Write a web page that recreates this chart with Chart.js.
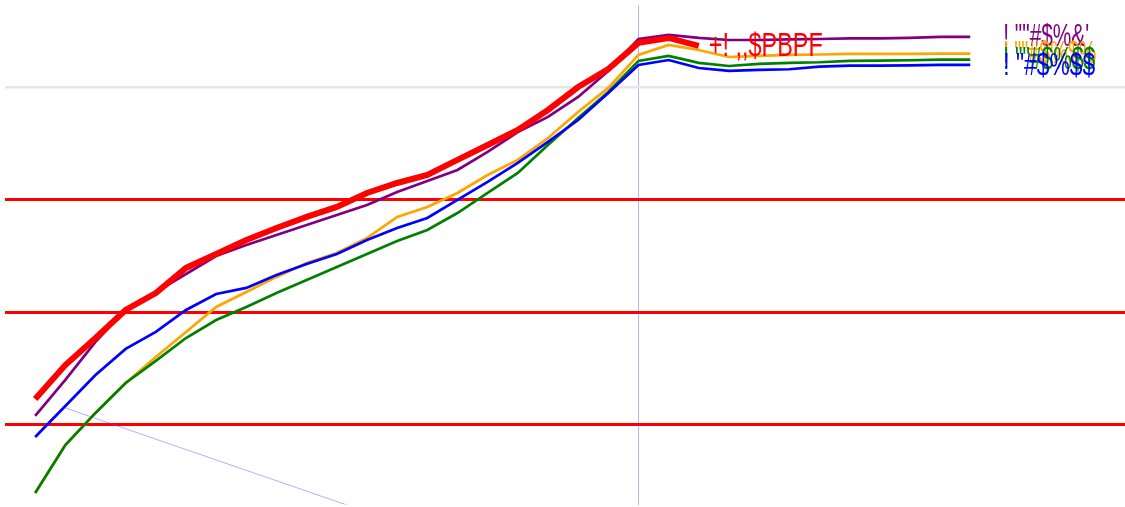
<!doctype html>
<html lang="">
<head>
  <meta charset="utf-8">
  <title>lines</title>
  <style>
    html, body { margin: 0; padding: 0; background: #fff; }
    #wrap { width: 1125px; height: 507px; position: relative; }
  </style>
</head>
<body>
  <div id="wrap"><canvas id="chart"></canvas></div>

  <script src="https://cdn.jsdelivr.net/npm/chart.js@4/dist/chart.umd.min.js"></script>
  <script>
  // x positions (step index) and the values
  const steps = [0, 1, 2, 3, 4, 5, 6, 7, 8, 9, 10, 11, 12, 13, 14, 15,
                 16, 17, 18, 19, 20, 21, 22, 23, 24, 25, 26, 27, 28, 29, 30, 31];

  const redValues = [23.1, 53.3, 77.3, 102.2, 117.3, 139.6, 152.0, 164.4, 175.1, 184.9, 193.8, 206.2,
                     215.1, 222.2, 235.6, 248.9, 262.2, 280.0, 300.4, 316.4, 339.6, 344.0, 336.9];
  const purpleValues = [8.0, 40.0, 73.8, 102.2, 118.2, 134.2, 150.2, 160.0, 168.9, 177.8, 186.7, 195.6,
                        207.1, 216.9, 226.7, 242.7, 260.4, 273.8, 291.6, 314.7, 343.1, 346.7, 344.0, 342.2,
                        342.2, 342.7, 343.1, 343.6, 343.6, 344.0, 344.9, 344.9];
  const orangeValues = [-60.4, -17.8, 10.7, 37.3, 60.4, 82.7, 104.9, 118.2, 131.6, 144.0, 152.9, 166.2,
                        184.9, 193.8, 206.2, 222.2, 235.6, 255.1, 278.2, 299.6, 328.9, 337.8, 333.3, 327.1,
                        328.0, 328.9, 329.3, 329.8, 329.8, 329.8, 330.0, 330.0];
  const greenValues = [-60.4, -17.8, 10.7, 37.3, 56.9, 77.3, 93.3, 104.9, 117.3, 128.9, 140.4, 152.0,
                       163.6, 173.3, 188.4, 206.2, 224.0, 248.9, 272.9, 296.0, 323.6, 328.0, 321.8, 319.1,
                       320.9, 321.8, 322.4, 323.6, 323.8, 324.2, 324.7, 324.7];
  const blueValues = [-10.7, 16.9, 44.4, 67.6, 82.7, 102.2, 116.4, 121.8, 133.3, 143.1, 152.0, 164.4,
                      175.1, 184.0, 200.0, 216.0, 232.9, 251.6, 271.1, 295.1, 320.0, 324.4, 317.3, 314.7,
                      315.6, 316.2, 318.5, 319.4, 319.4, 319.7, 320.0, 320.0];

  // faint trend line: start and end step, values
  const trendSteps = [1, 11];
  const trendValues = [15.1, -77.3];

  // reference lines
  const markerSteps = [20];
  const levelValues = [0, 100, 200, 300];
  const topLevel = 300;

  // end-of-line labels (text as it appears)
  const redLabel = '+! ,,$PBPF';
  const purpleLabel = '! ""#$%&\'';
  const orangeLabel = '! ""#$%$%';
  const greenLabel = '! ""#$%$$';
  const blueLabel = '! "#$%$$';

  function series(values) {
    return values.map((v, i) => ({ x: steps[i], y: v }));
  }

  function lineSet(label, values, color, width, order, text, dx, size, maxWidth) {
    return {
      label: label,
      data: series(values),
      borderColor: color,
      borderWidth: width,
      pointRadius: 0,
      tension: 0,
      order: order,
      endText: text,
      endDx: dx,
      endSize: size,
      endMax: maxWidth,
    };
  }

  const endLabels = {
    id: 'endLabels',
    afterDatasetsDraw(chart) {
      const ctx = chart.ctx;
      ctx.save();
      ctx.textBaseline = 'middle';
      ctx.textAlign = 'left';
      // draw purple first, blue last, red on its own
      [1, 2, 3, 4, 0].forEach(idx => {
        const ds = chart.data.datasets[idx];
        if (!ds.endText) return;
        const meta = chart.getDatasetMeta(idx);
        const pt = meta.data[meta.data.length - 1];
        ctx.fillStyle = ds.borderColor;
        ctx.font = ds.endSize + 'px "Liberation Sans", Arial, sans-serif';
        ctx.fillText(ds.endText, pt.x + ds.endDx, pt.y + 1, ds.endMax);
      });
      ctx.restore();
    }
  };

  const canvas = document.getElementById('chart');
  new Chart(canvas.getContext('2d'), {
    type: 'line',
    data: {
      datasets: [
        lineSet('red', redValues, '#ff0000', 6, 0, redLabel, 10, 33, 114),
        lineSet('purple', purpleValues, '#800080', 2.7, 4, purpleLabel, 33, 31, 86),
        lineSet('orange', orangeValues, '#ffa500', 2.7, 3, orangeLabel, 33, 31, 93),
        lineSet('green', greenValues, '#008000', 2.7, 2, greenLabel, 33, 31, 92),
        lineSet('blue', blueValues, '#0000ff', 2.7, 1, blueLabel, 33, 31, 92),
        {
          label: 'trend',
          data: trendValues.map((v, i) => ({ x: trendSteps[i], y: v })),
          borderColor: 'rgba(80, 80, 255, 0.45)',
          borderWidth: 1,
          pointRadius: 0,
          order: 5,
        },
      ],
    },
    options: {
      animation: false,
      responsive: true,
      maintainAspectRatio: false,
      layout: { padding: { left: 5, right: 0, top: 5, bottom: 2.5 } },
      plugins: {
        legend: { display: false },
        tooltip: { enabled: false },
      },
      scales: {
        x: {
          type: 'linear',
          min: -1,
          max: 36.13,
          afterBuildTicks: axis => { axis.ticks = markerSteps.map(v => ({ value: v })); },
          ticks: { display: false },
          border: { display: false },
          grid: {
            drawTicks: false,
            color: 'rgba(120, 120, 230, 0.55)',
            lineWidth: 1,
          },
        },
        y: {
          type: 'linear',
          min: -70.7,
          max: 373.3,
          afterBuildTicks: axis => { axis.ticks = levelValues.map(v => ({ value: v })); },
          ticks: { display: false },
          border: { display: false },
          grid: {
            drawTicks: false,
            color: c => c.tick && c.tick.value === topLevel ? '#e6e6e6' : '#ff0000',
            lineWidth: c => c.tick && c.tick.value === topLevel ? 2.5 : 3,
          },
        },
      },
    },
    plugins: [endLabels],
  });
  </script>
</body>
</html>
